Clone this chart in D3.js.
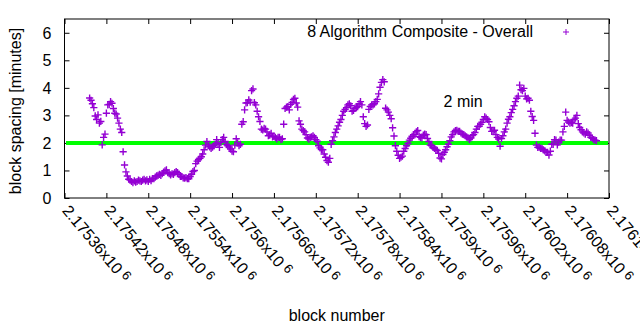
<!DOCTYPE html>
<html>
<head>
<meta charset="utf-8">
<script src="https://cdn.jsdelivr.net/npm/d3@7"></script>
<style>
  html, body { margin: 0; padding: 0; background: #fff; }
  svg { display: block; font-family: "Liberation Sans", Arial, sans-serif; }
</style>
</head>
<body>
<svg id="chart" width="640" height="330"></svg>
<script>
// ---------------- data ----------------
const seriesName = "8 Algorithm Composite - Overall";
const lineLabel = "2 min";
const targetSpacing = 2;
const xTicks = [2175360, 2175420, 2175480, 2175540, 2175600, 2175660, 2175720,
                2175780, 2175840, 2175900, 2175960, 2176020, 2176080, 2176140];
const xTickLabels = ["2.17536", "2.17542", "2.17548", "2.17554", "2.1756", "2.17566", "2.17572",
                     "2.17578", "2.17584", "2.1759", "2.17596", "2.17602", "2.17608", "2.17614"];
const xTickExp = "6";
const yTicks = [0, 1, 2, 3, 4, 5, 6];
const firstBlock = 2175396;
const blockStep = 2;
const spacing = [
  3.63,3.55,3.42,3.28,2.98,2.85,3.02,2.72,2.78,1.93,
  2.20,2.32,3.08,3.38,3.40,3.50,3.44,3.25,3.08,3.05,
  2.90,2.72,2.50,2.38,1.68,1.20,0.95,0.80,0.68,0.65,
  0.60,0.56,0.62,0.58,0.60,0.65,0.62,0.60,0.65,0.68,
  0.62,0.66,0.60,0.68,0.63,0.70,0.70,0.76,0.80,0.82,
  0.86,0.82,0.88,0.94,0.99,1.02,0.92,0.88,0.84,0.88,
  0.86,0.92,0.96,0.92,0.86,0.78,0.78,0.73,0.72,0.74,
  0.70,0.70,0.78,0.86,0.96,1.00,1.25,1.34,1.40,1.44,
  1.50,1.60,1.75,1.92,2.05,1.93,1.86,1.80,1.85,1.90,
  1.96,2.12,1.98,1.84,2.02,2.12,2.20,2.05,1.94,1.90,
  1.85,1.78,1.70,1.68,1.92,2.15,2.00,1.90,1.95,2.68,
  2.77,3.20,3.45,3.46,3.56,3.48,3.90,3.96,3.46,3.38,
  3.15,2.95,2.78,2.50,2.47,2.53,2.50,2.40,2.26,2.28,
  2.35,2.22,2.24,2.20,2.15,2.20,2.20,2.12,2.15,2.68,
  3.25,3.30,3.32,3.20,3.40,3.47,3.58,3.62,3.45,3.30,
  2.80,2.68,2.50,2.45,2.40,2.30,2.18,2.14,2.20,2.22,
  2.26,2.20,2.12,2.06,1.90,1.82,1.76,1.75,1.60,1.48,
  1.36,1.30,1.44,1.95,2.08,2.22,2.38,2.50,2.62,2.75,
  2.85,3.00,3.15,3.22,3.28,3.38,3.42,3.35,3.15,3.18,
  3.26,3.28,3.32,3.42,3.50,3.38,2.95,2.70,2.60,2.65,
  3.22,3.32,3.38,3.38,3.42,3.50,3.58,3.78,4.02,4.20,
  4.30,4.22,3.26,3.20,3.12,3.00,2.88,2.55,2.25,1.90,
  1.70,1.55,1.44,1.48,1.52,1.70,1.80,1.90,1.98,2.10,
  2.17,2.24,2.30,2.30,2.40,2.45,2.23,2.20,2.18,2.28,
  2.32,2.30,2.16,2.05,1.92,1.90,1.84,1.80,1.76,1.73,
  1.62,1.45,1.42,1.58,1.66,1.75,1.86,1.95,2.08,2.22,
  2.30,2.40,2.45,2.46,2.42,2.42,2.36,2.32,2.30,2.26,
  2.22,2.18,2.12,2.18,2.27,2.30,2.38,2.50,2.60,2.60,
  2.68,2.75,2.85,2.95,2.90,2.85,2.77,2.56,2.42,2.42,
  2.46,2.30,2.20,2.14,1.88,2.16,2.26,2.40,2.50,2.72,
  2.86,2.95,3.10,3.22,3.35,3.50,3.62,3.70,4.10,3.93,
  3.90,3.98,3.70,3.60,3.62,3.55,3.15,2.96,2.82,2.35,
  1.92,1.84,1.85,1.80,1.80,1.75,1.71,1.66,1.66,1.56,
  1.70,1.95,1.95,2.12,2.10,1.93,2.03,2.10,2.10,2.40,
  2.60,3.12,2.82,2.76,2.72,2.74,2.72,2.85,2.90,3.00,
  2.70,2.56,2.48,2.40,2.36,2.32,2.40,2.36,2.28,2.20,
  2.17,2.12,2.10,2.08
];
const blocks = spacing.map((_, i) => firstBlock + i * blockStep);

// ---------------- chart ----------------
const svg = d3.select("#chart");
const mLeft = 64.5, mRight = 609, mTop = 19, mBottom = 198;
const purple = "#9400d3";
const x = d3.scaleLinear().domain([xTicks[0], xTicks[xTicks.length - 1]]).range([mLeft, mRight]);
const y = d3.scaleLinear().domain([0, 6.5]).range([mBottom, mTop]);
const tick = 5;

function cleanAxis(g) {
  g.select(".domain").remove();
  g.selectAll("line").attr("stroke", "#000");
}
svg.append("g").attr("transform", `translate(0,${mBottom})`)
  .call(d3.axisBottom(x).tickValues(xTicks).tickSize(-tick).tickFormat("")).call(cleanAxis);
svg.append("g").attr("transform", `translate(0,${mTop})`)
  .call(d3.axisTop(x).tickValues(xTicks).tickSize(-tick).tickFormat("")).call(cleanAxis);
svg.append("g").attr("transform", `translate(${mLeft},0)`)
  .call(d3.axisLeft(y).tickValues(yTicks).tickSize(-tick).tickFormat("")).call(cleanAxis);
svg.append("g").attr("transform", `translate(${mRight},0)`)
  .call(d3.axisRight(y).tickValues(yTicks).tickSize(-tick).tickFormat("")).call(cleanAxis);

svg.append("rect").attr("x", mLeft).attr("y", mTop)
  .attr("width", mRight - mLeft).attr("height", mBottom - mTop)
  .attr("fill", "none").attr("stroke", "#000").attr("stroke-width", 1);

// y tick labels
svg.append("g").selectAll("text").data(yTicks).join("text")
  .attr("x", mLeft - 13).attr("y", d => y(d)).attr("dy", "0.36em")
  .attr("text-anchor", "end").attr("font-size", 16).attr("fill", "#000")
  .text(d => d);

// x tick labels rotated
const xl = svg.append("g").selectAll("text").data(xTicks).join("text")
  .attr("transform", d => `translate(${x(d) - 3},${mBottom + 13}) rotate(50)`)
  .attr("font-size", 16).attr("fill", "#000");
xl.append("tspan").text((d, i) => xTickLabels[i] + "x10");
xl.append("tspan").attr("font-size", 13).attr("dx", 4).attr("dy", -4).text(xTickExp);

// axis titles
svg.append("text").attr("transform", `translate(21,111) rotate(-90)`)
  .attr("text-anchor", "middle").attr("font-size", 16).attr("fill", "#000")
  .text("block spacing [minutes]");
svg.append("text").attr("x", (mLeft + mRight) / 2).attr("y", 321)
  .attr("text-anchor", "middle").attr("font-size", 16).attr("fill", "#000")
  .text("block number");

// green 2-minute line
svg.append("line")
  .attr("x1", x(xTicks[0]) + 1.5).attr("x2", x(xTicks[xTicks.length - 1]) - 1)
  .attr("y1", y(targetSpacing)).attr("y2", y(targetSpacing))
  .attr("stroke", "#00ff00").attr("stroke-width", 4);

// data points as "+"
const cs = 3.6;
svg.append("g").selectAll("path").data(spacing).join("path")
  .attr("d", (d, i) => {
    const px = x(blocks[i]), py = y(d);
    return `M${px - cs},${py}H${px + cs}M${px},${py - cs}V${py + cs}`;
  })
  .attr("stroke", purple).attr("stroke-width", 1.4).attr("fill", "none");

// label "2 min"
svg.append("text").attr("x", x(2175903)).attr("y", y(3.32))
  .attr("font-size", 16).attr("fill", "#000").text(lineLabel);

// legend
svg.append("text").attr("x", 533).attr("y", 37).attr("text-anchor", "end")
  .attr("font-size", 16).attr("fill", "#000").text(seriesName);
svg.append("path").attr("d", "M563,32H569M566,29V35")
  .attr("stroke", purple).attr("stroke-width", 1).attr("fill", "none");
</script>
</body>
</html>
